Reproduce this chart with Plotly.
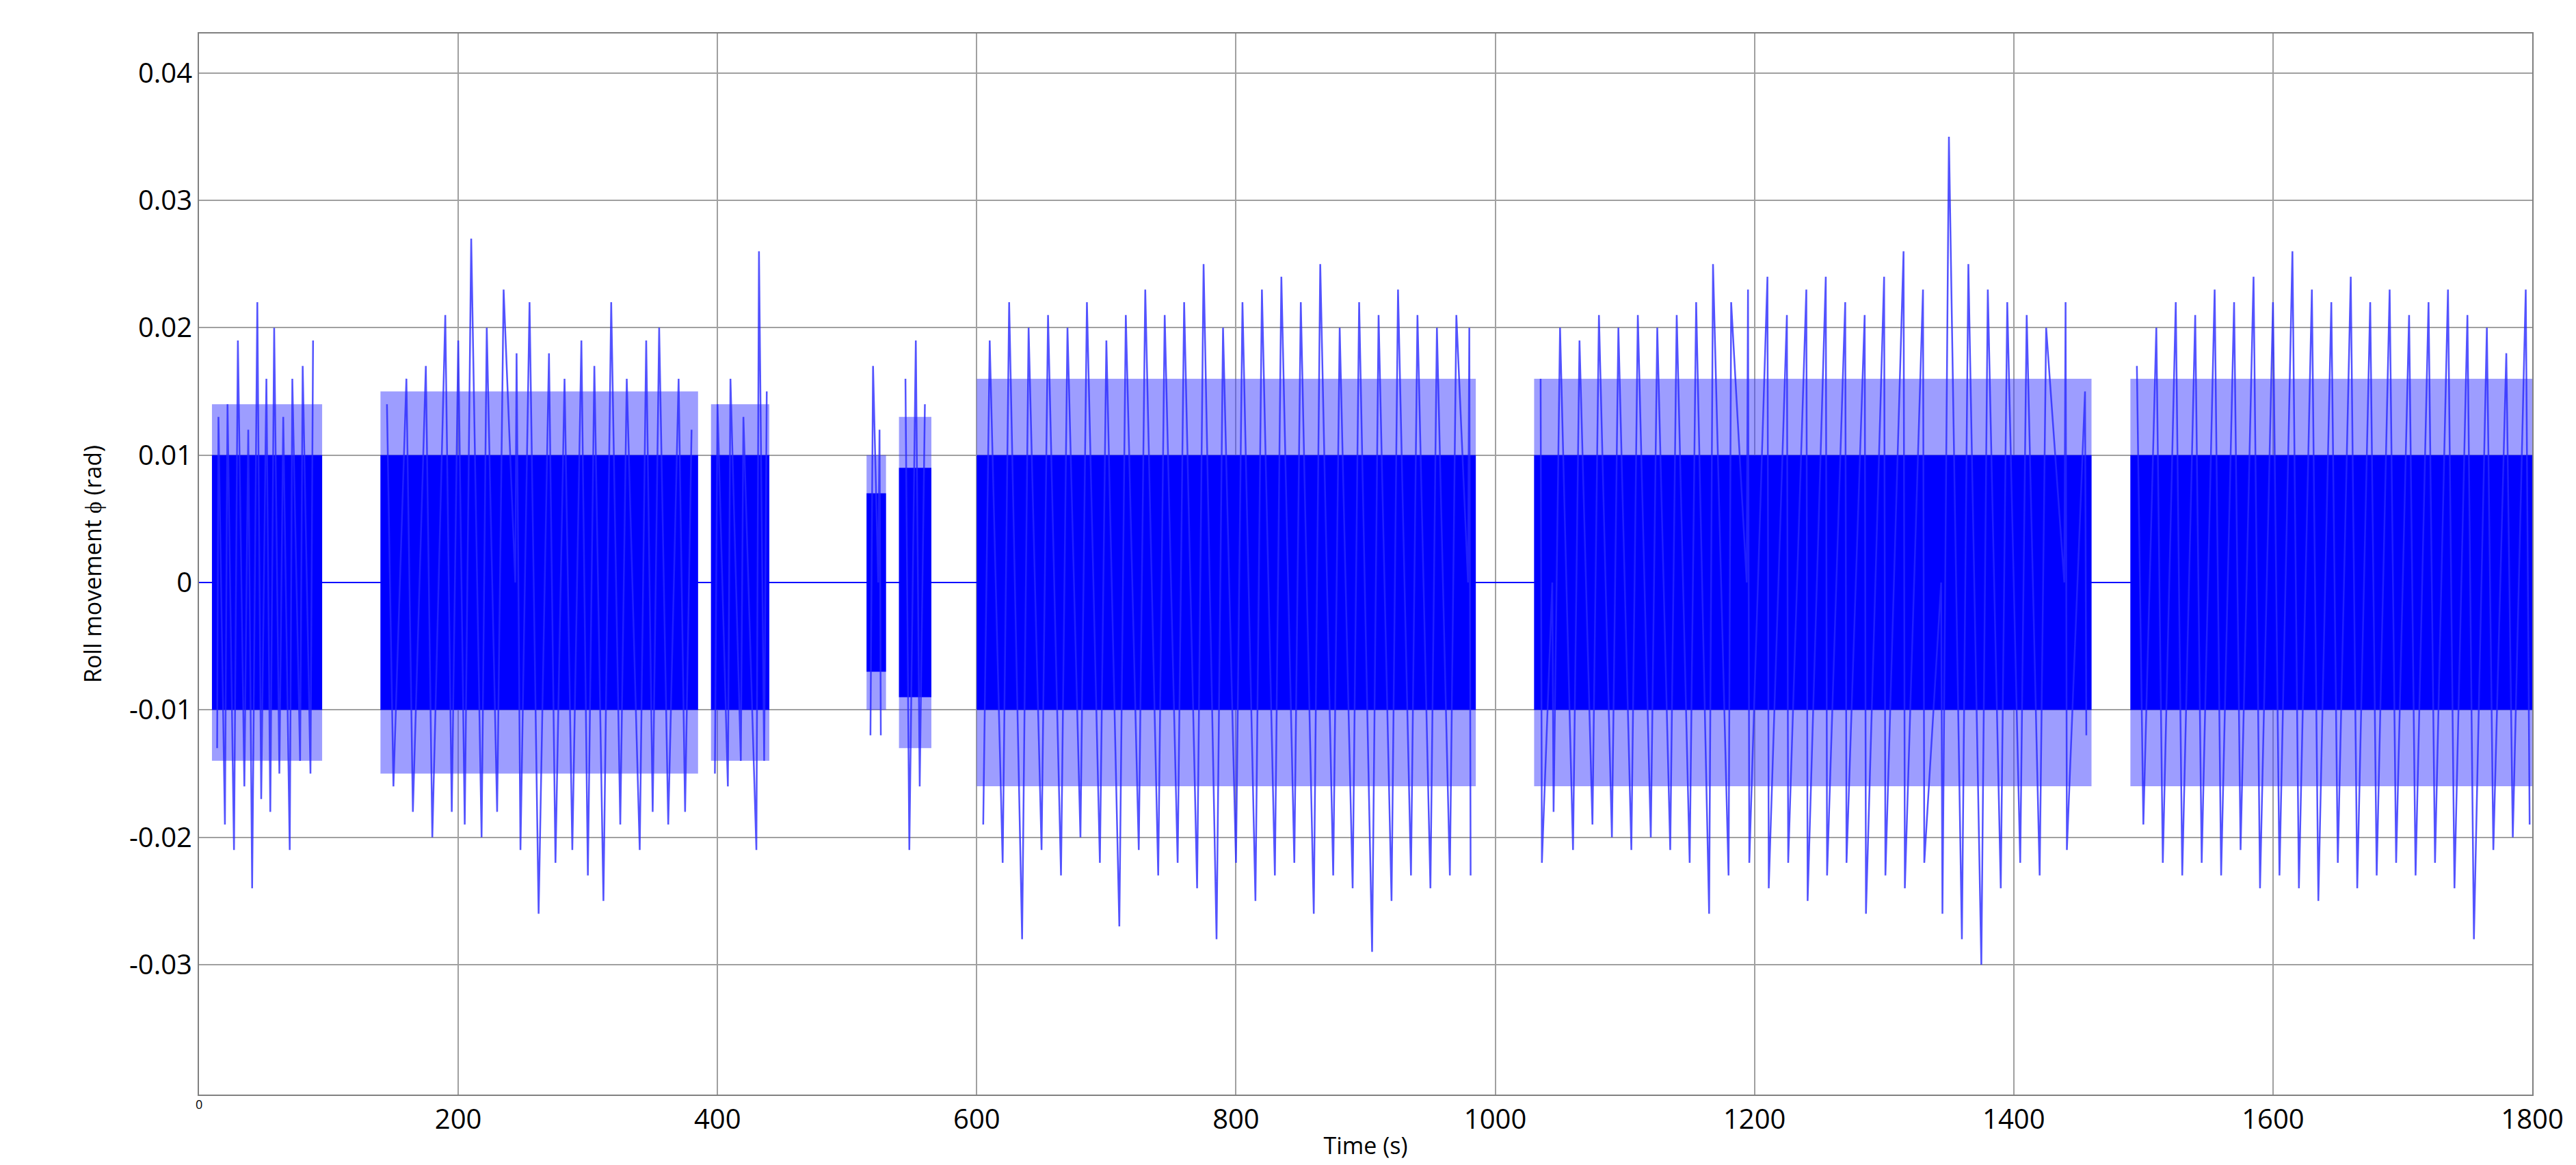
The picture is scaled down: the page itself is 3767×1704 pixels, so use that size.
import plotly.graph_objects as go

burst_start = [10, 140, 395, 515, 540, 600, 1030, 1490]
burst_end = [95, 385, 440, 530, 565, 985, 1460, 1800]
burst_core = [0.010, 0.010, 0.010, 0.007, 0.009, 0.010, 0.010, 0.010]
burst_fringe = [0.014, 0.015, 0.014, 0.010, 0.013, 0.016, 0.016, 0.016]

spike_t = [15,22,30,38,45,52,58,65,72,80,88, 14,20,27,35,41,48,55,62,70,78,86,
 145,160,175,190,200,210,222,235,245,255,270,282,295,305,318,330,345,355,370,380,
 150,165,180,195,205,218,230,248,262,275,288,300,312,325,340,350,362,375,
 400,410,420,432,438, 398,408,418,430,436,
 520,525, 518,526, 545,553,560, 548,556,
 610,625,640,655,670,685,700,715,730,745,760,775,790,805,820,835,850,865,880,895,910,925,940,955,970,980,
 605,620,635,650,665,680,695,710,725,740,755,770,785,800,815,830,845,860,875,890,905,920,935,950,965,981,
 1035,1050,1065,1080,1095,1110,1125,1140,1155,1168,1182,1195,1210,1225,1240,1255,1270,1285,1300,1315,1330,1350,1365,1380,1395,1410,1425,1440,1455,
 1036,1045,1060,1075,1090,1105,1120,1135,1150,1165,1180,1196,1211,1226,1241,1256,1271,1286,1301,1316,1331,1345,1360,1375,1390,1405,1420,1441,1456,
 1495,1510,1525,1540,1555,1570,1585,1600,1615,1630,1645,1660,1675,1690,1705,1720,1735,1750,1765,1780,1795,
 1500,1515,1530,1545,1560,1575,1590,1605,1620,1635,1650,1665,1680,1695,1710,1725,1740,1755,1770,1785,1798]
spike_v = [0.013,0.014,0.019,0.012,0.022,0.016,0.020,0.013,0.016,0.017,0.019,
 -0.013,-0.019,-0.021,-0.016,-0.024,-0.017,-0.018,-0.015,-0.021,-0.014,-0.015,
 0.014,0.016,0.017,0.021,0.019,0.027,0.020,0.023,0.018,0.022,0.018,0.016,0.019,0.017,0.022,0.016,0.019,0.020,0.016,0.012,
 -0.016,-0.018,-0.020,-0.018,-0.019,-0.020,-0.018,-0.021,-0.026,-0.022,-0.021,-0.023,-0.025,-0.019,-0.021,-0.018,-0.019,-0.018,
 0.014,0.016,0.013,0.026,0.015, -0.015,-0.016,-0.014,-0.021,-0.014,
 0.017,0.012, -0.012,-0.012, 0.016,0.019,0.014, -0.021,-0.016,
 0.019,0.022,0.020,0.021,0.020,0.022,0.019,0.021,0.023,0.021,0.022,0.025,0.020,0.022,0.023,0.024,0.022,0.025,0.020,0.022,0.021,0.023,0.021,0.020,0.021,0.020,
 -0.019,-0.022,-0.028,-0.021,-0.023,-0.020,-0.022,-0.027,-0.021,-0.023,-0.022,-0.024,-0.028,-0.022,-0.025,-0.023,-0.022,-0.026,-0.023,-0.024,-0.029,-0.025,-0.023,-0.024,-0.023,-0.023,
 0.016,0.020,0.019,0.021,0.020,0.021,0.020,0.021,0.022,0.025,0.022,0.023,0.024,0.021,0.023,0.024,0.022,0.021,0.024,0.026,0.023,0.035,0.025,0.023,0.022,0.021,0.020,0.022,0.015,
 -0.022,-0.018,-0.021,-0.019,-0.020,-0.021,-0.020,-0.021,-0.022,-0.026,-0.023,-0.022,-0.024,-0.022,-0.025,-0.023,-0.022,-0.026,-0.023,-0.024,-0.022,-0.026,-0.028,-0.030,-0.024,-0.022,-0.023,-0.021,-0.012,
 0.017,0.020,0.022,0.021,0.023,0.022,0.024,0.022,0.026,0.023,0.022,0.024,0.022,0.023,0.021,0.022,0.023,0.021,0.020,0.018,0.023,
 -0.019,-0.022,-0.023,-0.022,-0.023,-0.021,-0.024,-0.023,-0.024,-0.025,-0.022,-0.024,-0.023,-0.022,-0.023,-0.022,-0.024,-0.028,-0.021,-0.020,-0.019]

x_ticks = [200, 400, 600, 800, 1000, 1200, 1400, 1600, 1800]
y_ticks = [-0.03, -0.02, -0.01, 0, 0.01, 0.02, 0.03, 0.04]
y_labels = ["-0.03", "-0.02", "-0.01", "0", "0.01", "0.02", "0.03", "0.04"]

BLUE = "rgb(0,0,255)"
fig = go.Figure()
fig.add_trace(go.Scatter(x=[0, 1800], y=[0, 0], mode="lines",
                         line=dict(color=BLUE, width=2), hoverinfo="skip"))
for s, e, a, f in zip(burst_start, burst_end, burst_core, burst_fringe):
    fig.add_trace(go.Scatter(x=[s, e, e, s, s], y=[f, f, -f, -f, f], mode="lines",
                             fill="toself", fillcolor="rgba(60,60,255,0.5)",
                             line=dict(width=0), hoverinfo="skip"))
    fig.add_trace(go.Scatter(x=[s, e, e, s, s], y=[a, a, -a, -a, a], mode="lines",
                             fill="toself", fillcolor=BLUE,
                             line=dict(width=0), hoverinfo="skip"))
pairs = sorted(zip(spike_t, spike_v))
sx, sy = [], []
prev_b, prev_v = None, None
for t, v in pairs:
    b = next(i for i, (s, e) in enumerate(zip(burst_start, burst_end)) if s - 2 <= t <= e + 2)
    if prev_b is not None and b != prev_b:
        sx.append(None); sy.append(None)
    elif prev_v is not None and (prev_v > 0) == (v > 0):
        sx.append(t - 1); sy.append(0)
    sx.append(t); sy.append(v)
    prev_b, prev_v = b, v
fig.add_trace(go.Scatter(x=sx, y=sy, mode="lines",
                         line=dict(color="rgba(40,40,255,0.8)", width=2.5), hoverinfo="skip"))

fig.update_layout(
    width=3767, height=1704, showlegend=False,
    plot_bgcolor="white", paper_bgcolor="white",
    margin=dict(l=283, r=72, t=41, b=111),
    font=dict(family="Open Sans", color="black"),
    xaxis=dict(range=[0, 1800], tickvals=x_ticks, ticktext=[str(v) for v in x_ticks],
               showgrid=True, gridcolor="#a0a0a0", gridwidth=2,
               showline=True, linecolor="#808080", linewidth=2, mirror=True,
               ticks="", tickfont=dict(size=40),
               title=dict(text="Time (s)", font=dict(size=34), standoff=2)),
    yaxis=dict(range=[-0.0402, 0.0431], tickvals=y_ticks, ticktext=y_labels,
               showgrid=True, gridcolor="#a0a0a0", gridwidth=2, zeroline=False,
               showline=True, linecolor="#808080", linewidth=2, mirror=True,
               ticks="", tickfont=dict(size=40),
               title=dict(text="Roll movement ϕ (rad)", font=dict(size=34), standoff=30)),
)
fig.add_annotation(x=0, y=-0.0402, xref="x", yref="y", text="0", showarrow=False,
                   yshift=-14, font=dict(size=18))
fig.write_html("out.html")
